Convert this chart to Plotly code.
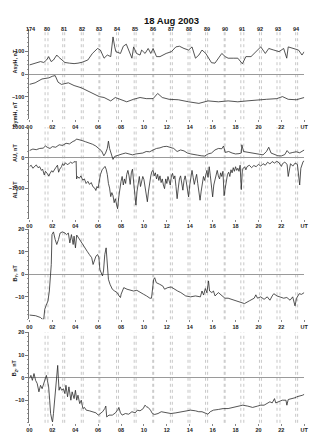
import plotly.graph_objects as go

# ---------------- data ----------------
asy_t = [0.0, 0.3, 0.6, 0.97, 1.25, 1.5, 1.68, 1.9, 2.1, 2.39, 2.55, 2.8, 3.1, 3.5, 3.9, 4.24, 4.6, 5.1, 5.5,
         5.95, 6.2, 6.52, 6.8, 7.1, 7.3, 7.45, 7.55, 7.95, 8.2, 8.46, 8.65, 8.95, 9.1, 9.35, 9.66, 9.8, 10.1,
         10.37, 10.6, 10.8, 11.1, 11.4, 11.94, 12.4, 12.79, 13.1, 13.5, 13.9, 14.2, 14.5, 14.8, 15.07, 15.4,
         15.9, 16.2, 16.5, 16.8, 17.1, 17.35, 17.8, 18.2, 18.6, 18.9, 19.35, 19.77, 20.2, 20.6, 20.9, 21.34,
         21.8, 22.2, 22.47, 22.6, 23.05, 23.5, 23.8, 24.0]
asy_v = [40, 45, 48, 55, 51, 62, 77, 55, 62, 84, 75, 62, 51, 48, 46, 48, 52, 62, 91,
         113, 106, 70, 84, 77, 164, 120, 99, 91, 123, 132, 106, 70, 120, 91, 84, 106, 91,
         113, 91, 113, 77, 77, 91, 99, 120, 123, 113, 106, 120, 70, 84, 106, 91,
         50, 48, 70, 91, 77, 70, 70, 70, 45, 77, 77, 99, 120, 91, 113, 106,
         99, 113, 70, 120, 113, 106, 84, 99]

sym_t = [0.0, 0.5, 1.1, 1.7, 2.0, 2.25, 2.5, 2.8, 3.4, 3.9, 4.53, 5.1, 5.67, 6.1, 6.52, 6.8, 7.1, 7.5, 7.95,
         8.5, 9.09, 9.66, 10.2, 10.8, 11.2, 11.6, 12.2, 13.0, 13.9, 14.8, 15.6, 16.5, 17.35, 18.2, 19.0,
         19.9, 20.7, 21.6, 22.1, 22.6, 23.3, 24.0]
sym_v = [-46, -39, -22, -17, -10, -7, -36, -46, -39, -51, -61, -75, -90, -100, -104, -112, -119, -104, -112,
         -123, -112, -104, -109, -109, -86, -104, -112, -114, -123, -130, -119, -123, -119, -123, -119,
         -114, -112, -109, -100, -112, -114, -104]

au_t = [0.0, 0.3, 0.6, 0.9, 1.2, 1.4, 1.6, 1.8, 2.0, 2.3, 2.6, 2.9, 3.2, 3.5, 3.8, 4.0, 4.1, 4.3, 4.6, 4.9,
        5.2, 5.5, 5.8, 6.1, 6.3, 6.5, 6.65, 6.8, 6.9, 7.0, 7.15, 7.3, 7.45, 7.6, 7.8, 8.1, 8.4, 8.7, 9.0,
        9.3, 9.6, 9.9, 10.2, 10.5, 10.8, 11.1, 11.4, 11.7, 12.0, 12.3, 12.6, 12.9, 13.2, 13.5, 13.8, 14.1,
        14.4, 14.7, 15.0, 15.3, 15.6, 15.9, 16.2, 16.5, 16.8, 16.95, 17.1, 17.4, 17.7, 18.0, 18.3, 18.5,
        18.55, 18.7, 19.0, 19.3, 19.6, 19.9, 20.2, 20.4, 20.7, 20.9, 21.1, 21.4, 21.7, 22.0, 22.3, 22.5,
        22.7, 23.0, 23.3, 23.6, 23.9, 24.0]
au_v = [230, 280, 260, 300, 310, 380, 330, 300, 360, 340, 420, 400, 470, 450, 530, 560, 610, 580, 560, 520,
        490, 440, 380, 300, 220, 60, 150, 300, 540, 300, 100, -60, 40, 60, 100, 120, 150, 120, 90,
        120, 140, 150, 200, 190, 250, 300, 320, 360, 370, 330, 300, 200, 250, 220, 150, 120,
        90, 80, 60, 50, 120, 150, 250, 300, 290, 380, 170, 200, 150, 120, 130, 150,
        420, 200, 180, 160, 130, 120, 100, 90, 200, 340, 150, 110, 60, 55, 100, 230,
        140, 170, 190, 160, 220, 250]

al_t = [0.0, 0.15, 0.3, 0.45, 0.6, 0.75, 0.9, 1.05, 1.15, 1.3, 1.4, 1.55, 1.7, 1.8, 1.95, 2.05, 2.15, 2.3,
        2.45, 2.55, 2.65, 2.8, 2.9, 3.0, 3.15, 3.3, 3.45, 3.6, 3.75, 3.9, 4.0, 4.08, 4.12, 4.2, 4.35, 4.5,
        4.65, 4.8, 4.95, 5.1, 5.25, 5.4, 5.55, 5.7, 5.8, 5.9, 6.0, 6.1, 6.2, 6.35, 6.5, 6.6, 6.7, 6.8,
        6.9, 7.0, 7.1, 7.2, 7.3, 7.4, 7.5, 7.6, 7.7, 7.8, 7.9, 8.0, 8.1, 8.2, 8.3, 8.4, 8.5, 8.6, 8.7,
        8.8, 8.9, 9.0, 9.1, 9.2, 9.3, 9.4, 9.5, 9.6, 9.7, 9.8, 9.9, 10.0, 10.1, 10.2, 10.3, 10.4, 10.5,
        10.6, 10.7, 10.8, 10.9, 11.0, 11.1, 11.2, 11.3, 11.4, 11.5, 11.6, 11.7, 11.8, 11.9, 12.0, 12.1,
        12.2, 12.3, 12.4, 12.5, 12.6, 12.7, 12.8, 12.9, 13.0, 13.1, 13.2, 13.3, 13.4, 13.5, 13.6, 13.7,
        13.8, 13.9, 14.0, 14.1, 14.2, 14.3, 14.4, 14.5, 14.6, 14.7, 14.8, 14.9, 15.0, 15.1, 15.2, 15.3,
        15.4, 15.5, 15.6, 15.7, 15.8, 15.9, 16.0, 16.1, 16.2, 16.3, 16.4, 16.5, 16.6, 16.7, 16.8, 16.9,
        17.0, 17.1, 17.2, 17.3, 17.4, 17.5, 17.6, 17.7, 17.8, 17.9, 18.0, 18.1, 18.2, 18.3, 18.4, 18.5,
        18.6, 18.7, 18.8, 18.9, 19.0, 19.2, 19.4, 19.6, 19.8, 20.0, 20.2, 20.4, 20.6, 20.8, 21.0, 21.2,
        21.4, 21.6, 21.8, 22.0, 22.1, 22.3, 22.5, 22.6, 22.7, 22.8, 23.0, 23.2, 23.4, 23.5, 23.6, 23.7,
        23.8, 23.9, 24.0]
al_v = [-300, -250, -350, -280, -240, -330, -300, -420, -380, -570, -450, -520, -610, -520, -430, -480, -400, -330,
        -250, -480, -380, -300, -200, -260, -170, -230, -200, -150, -190, -130, -150, -120, -700, -620, -680, -600,
        -740, -700, -850, -780, -880, -820, -960, -1000, -1080, -950, -1000, -700, -560, -400, -330, -290, -380, -550,
        -850, -1000, -1280, -1150, -1250, -1480, -1350, -1550, -1680, -1300, -1000, -780, -620, -900, -700, -850, -550, -420, -600,
        -880, -500, -380, -800, -1200, -1560, -1100, -800, -620, -950, -800, -620, -720, -950, -1300, -1450, -1100, -800,
        -600, -450, -420, -600, -500, -700, -550, -750, -600, -820, -700, -900, -1020, -700, -850, -620,
        -780, -900, -600, -520, -700, -600, -950, -1350, -1000, -700, -600, -850, -1070, -750, -600, -800,
        -1000, -1290, -900, -700, -420, -650, -880, -700, -550, -850, -1180, -1400, -1100, -800, -620, -750,
        -550, -420, -650, -300, -600, -900, -1290, -900, -700, -550, -420, -600, -700, -500, -620, -450,
        -1250, -1000, -700, -550, -480, -620, -400, -500, -330, -450, -300, -420, -350, -450, -250, -1050,
        -380, -330, -300, -400, -300, -250, -330, -260, -300, -220, -280, -200, -250, -150, -210, -130,
        -180, -120, -170, -290, -200, -150, -220, -620, -350, -200, -280, -180, -220, -650, -900, -350,
        -200, -130, -110]

by_t = [0.0, 0.54, 0.97, 1.11, 1.25, 1.34, 1.45, 1.62, 1.74, 1.85, 1.91, 1.97, 2.1, 2.25, 2.39, 2.54, 2.68,
        2.88, 3.1, 3.24, 3.4, 3.53, 3.67, 3.82, 3.9, 4.02, 4.13, 4.3, 4.47, 4.67, 4.87, 5.04, 5.24, 5.44,
        5.56, 5.67, 5.81, 5.96, 6.07, 6.15, 6.24, 6.38, 6.47, 6.58, 6.7, 6.81, 6.9, 7.04, 7.24, 7.44, 7.66,
        7.83, 7.95, 8.01, 8.1, 8.24, 8.52, 8.81, 9.09, 9.38, 9.66, 9.95, 10.23, 10.52, 10.66, 10.74, 10.85,
        10.94, 11.08, 11.37, 11.65, 11.8, 12.08, 12.37, 12.65, 12.94, 13.22, 13.65, 14.07, 14.5, 14.93, 15.07,
        15.21, 15.36, 15.5, 15.64, 15.73, 15.93, 16.07, 16.21, 16.5, 16.79, 17.07, 17.35, 17.64, 18.07,
        18.49, 18.78, 19.2, 19.63, 19.77, 19.92, 20.2, 20.49, 20.77, 21.0, 21.2, 21.34, 21.62, 21.91, 22.2,
        22.48, 22.76, 22.99, 23.19, 23.33, 23.56, 23.76, 24.0]
by_v = [-18.1, -18.4, -19.2, -19.9, -20.0, -15.5, -14.0, -11.8, -7.4, 0.0, 4.4, 17.7, 18.9, 15.5, 13.3, 15.5, 18.4,
        18.9, 18.4, 17.7, 18.4, 14.0, 17.7, 13.3, 17.0, 11.8, 17.5, 16.2, 14.7, 13.3, 11.8, 10.3, 8.8, 7.4,
        4.4, 5.9, 8.1, 8.8, 7.4, 2.2, 0.7, -0.7, 1.5, 8.8, 11.8, 4.4, -2.2, -4.4, -6.6, -7.4, -8.1,
        -9.6, -10.3, -8.8, -7.4, -5.9, -6.6, -7.1, -7.4, -7.1, -8.1, -8.8, -9.6, -10.6, -10.6, -7.4, -2.2,
        -1.5, -3.7, -4.4, -5.2, -6.6, -5.9, -5.6, -6.6, -7.4, -8.1, -9.6, -10.0, -9.6, -10.0, -7.4,
        -9.2, -6.3, -8.2, -2.9, -7.4, -8.1, -7.4, -9.6, -8.1, -9.6, -10.6, -10.6, -11.1, -11.5,
        -12.5, -13.0, -11.8, -10.6, -9.1, -10.6, -10.0, -11.1, -10.0, -11.5, -9.6, -8.6, -9.6, -10.0, -10.6,
        -10.3, -11.5, -10.0, -14.0, -10.6, -8.6, -8.9, -8.1]

bz_t = [0.0, 0.13, 0.26, 0.4, 0.54, 0.68, 0.83, 0.97, 1.11, 1.25, 1.4, 1.48, 1.57, 1.68, 1.77, 1.85, 1.97,
        2.02, 2.1, 2.19, 2.3, 2.39, 2.47, 2.53, 2.59, 2.68, 2.82, 2.96, 3.1, 3.19, 3.33, 3.45, 3.62, 3.73,
        3.9, 4.02, 4.13, 4.24, 4.39, 4.53, 4.67, 4.81, 4.96, 5.24, 5.53, 5.81, 6.01, 6.18, 6.39, 6.58, 6.67,
        6.75, 6.95, 7.24, 7.52, 7.72, 7.81, 7.95, 8.1, 8.38, 8.67, 8.95, 9.24, 9.43, 9.66, 9.94, 10.09,
        10.23, 10.37, 10.57, 10.74, 10.94, 11.23, 11.51, 11.94, 12.36, 12.79, 13.22, 13.65, 14.07, 14.5,
        14.79, 15.07, 15.36, 15.59, 15.79, 16.07, 16.5, 16.92, 17.35, 17.78, 18.2, 18.63, 19.06, 19.49,
        19.92, 20.2, 20.49, 20.77, 21.0, 21.2, 21.4, 21.51, 21.8, 22.08, 22.4, 22.48, 22.6, 22.99, 23.28,
        23.33, 23.62, 23.85, 24.0]
bz_v = [-0.4, 1.0, -1.2, 1.8, -1.2, -2.6, -6.3, -3.4, -4.9, -2.6, -0.4, 1.0, -1.2, -4.1, -10.0, -15.9, -18.8,
        -19.6, -15.9, -10.0, -2.6, 1.8, 5.4, -0.4, -5.6, -4.1, -5.6, -4.9, -7.1, -3.4, -8.5, -4.1, -10.0, -6.3,
        -9.3, -5.6, -10.0, -7.8, -11.5, -10.0, -13.7, -13.2, -14.4, -14.7, -15.1, -15.6, -16.6, -15.9, -15.1, -13.7, -12.6,
        -17.4, -16.6, -16.6, -15.6, -14.1, -13.2, -15.6, -16.6, -15.9, -16.2, -15.1, -15.6, -14.4, -14.7, -13.7, -12.2,
        -12.9, -13.2, -14.4, -15.9, -16.3, -15.9, -15.1, -15.6, -15.9, -15.6, -15.1, -14.9, -14.4, -14.7,
        -15.1, -15.1, -15.9, -16.2, -15.1, -14.4, -14.1, -13.7, -13.7, -13.2, -12.6, -12.2, -12.6, -13.2,
        -12.6, -12.2, -12.2, -11.5, -10.7, -11.2, -9.3, -11.2, -10.7, -10.0, -10.0, -12.2, -9.7, -9.3, -8.8,
        -8.5, -8.2, -7.8, -7.4]

orbit_start = [1.37, 2.91, 4.53, 6.07, 7.61, 9.15, 10.77, 12.31, 13.85, 15.38, 17.01, 18.46, 20.09, 21.62, 23.25]
orbit_end = [1.62, 3.08, 4.70, 6.15, 7.78, 9.32, 10.85, 12.48, 14.02, 15.56, 17.09, 18.72, 20.26, 21.88, 23.42]
orbit_labels = ["80", "81", "82", "83", "84", "85", "86", "87", "88", "89", "90", "91", "92", "93", "94"]

x_tickvals = [0, 2, 4, 6, 8, 10, 12, 14, 16, 18, 20, 22, 24]
x_ticktext = ["00", "02", "04", "06", "08", "10", "12", "14", "16", "18", "20", "22", "UT"]

# ---------------- layout helpers ----------------
W, H = 320, 437
FONT = "Liberation Sans"
TICK = 5.5
def py(p):
    return 1 - p / H

x_dom = [27 / W, 308 / W]
panels = [
    dict(dom=[py(117), py(26)], rng=[-200, 200], tv=[-100, 0, 100], minor=20),
    dict(dom=[py(217), py(125)], rng=[-2000, 1000], tv=[-1000, 0, 1000], minor=200),
    dict(dom=[py(318.5), py(228)], rng=[-20, 20], tv=[-10, 0, 10, 20], minor=2),
    dict(dom=[py(422.7), py(331.7)], rng=[-20, 20], tv=[-10, 0, 10, 20], minor=2),
]

fig = go.Figure()
line = dict(color="#2a2a2a", width=0.8)
series = [(asy_t, asy_v, 1), (sym_t, sym_v, 1), (au_t, au_v, 2), (al_t, al_v, 2),
          (by_t, by_v, 3), (bz_t, bz_v, 4)]
for t, v, k in series:
    sfx = "" if k == 1 else str(k)
    fig.add_trace(go.Scatter(x=t, y=v, mode="lines", line=line,
                             xaxis="x" + sfx, yaxis="y" + sfx, showlegend=False,
                             hoverinfo="skip"))

lay = dict(width=W, height=H, margin=dict(l=0, r=0, t=0, b=0),
           paper_bgcolor="white", plot_bgcolor="white", showlegend=False)
shapes = []
for i, p in enumerate(panels, start=1):
    sfx = "" if i == 1 else str(i)
    lay["xaxis" + sfx] = dict(domain=x_dom, range=[0, 24], anchor="y" + sfx,
                              tickvals=x_tickvals, ticktext=x_ticktext,
                              showline=False, showgrid=False, zeroline=False,
                              ticks="outside", ticklen=2, tickcolor="#888",
                              tickfont=dict(size=TICK, family=FONT, color="#222", weight="bold"))
    lay["yaxis" + sfx] = dict(domain=p["dom"], range=p["rng"], anchor="x" + sfx,
                              tickvals=p["tv"], showline=True, linecolor="#777", linewidth=1,
                              showgrid=False, zeroline=True, zerolinecolor="#9a9a9a", zerolinewidth=1,
                              ticks="outside", ticklen=3, tickcolor="#777",
                              minor=dict(dtick=p["minor"], ticks="outside", ticklen=1.5, tickcolor="#999"),
                              tickfont=dict(size=TICK, family=FONT, color="#222", weight="bold"))
    for a, b in zip(orbit_start, orbit_end):
        for xv in (a, b):
            shapes.append(dict(type="line", xref="x" + sfx, yref="y" + sfx + " domain",
                               x0=xv, x1=xv, y0=0, y1=1,
                               line=dict(color="#b0b0b0", width=0.7, dash="dot"), layer="below"))
lay["shapes"] = shapes

ann = []
ann.append(dict(text="18 Aug 2003", x=172 / W, y=py(10), xref="paper", yref="paper",
                showarrow=False, font=dict(size=9.5, family=FONT, color="#111", weight="bold")))
ann.append(dict(text="174", x=21 / W, y=py(21), xref="paper", yref="paper", showarrow=False,
                font=dict(size=TICK, family=FONT, color="#222", weight="bold")))
for a, b, lab in zip(orbit_start, orbit_end, orbit_labels):
    ann.append(dict(text=lab, x=(a + b) / 2, y=py(21), xref="x", yref="paper", showarrow=False,
                    font=dict(size=TICK, family=FONT, color="#222", weight="bold")))
ytitles = [("AsyH, nT", 45), ("SymH, nT", 97), ("AU, nT", 140), ("AL, nT", 188),
           ("B<sub>Y</sub>, nT", 272), ("B<sub>Z</sub>, nT", 378)]
for txt, yy in ytitles:
    ann.append(dict(text=txt, x=7 / W, y=py(yy), xref="paper", yref="paper", showarrow=False,
                    textangle=-90, font=dict(size=TICK, family=FONT, color="#222", weight="bold")))
lay["annotations"] = ann
fig.update_layout(**lay)
fig.write_html("out.html", config={"displayModeBar": False},
               post_script="document.body.style.margin='0px';document.body.style.overflow='hidden';")
